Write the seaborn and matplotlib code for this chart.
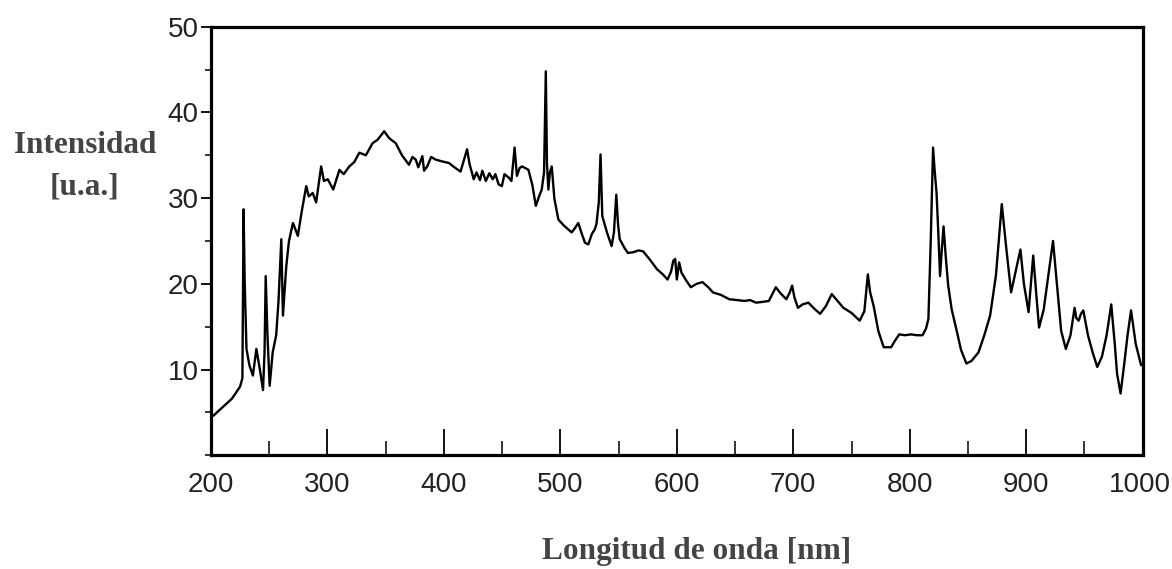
import matplotlib
matplotlib.use("Agg")
import matplotlib.pyplot as plt
import matplotlib.transforms as mtransforms
import seaborn as sns
import pandas as pd
from matplotlib.ticker import MultipleLocator

wavelength = [202, 210, 218, 225, 227, 228, 229, 230.5, 233, 236, 239, 242, 244.7, 246, 247, 248.5,
              250.4, 253, 256, 258, 260.4, 261.8, 264.7, 267, 270.4, 274.6, 278, 281.8, 284, 287.4,
              290.3, 294.6, 297, 300.3, 305, 310.3, 314, 318.8, 323, 327.4, 333, 338.7, 343, 348.7,
              353, 358.7, 364, 370, 373, 375.8, 378, 381.5, 383, 385.7, 389, 392.9, 398, 404.3,
              409, 414.3, 419.9, 422, 425.6, 428, 431, 433, 436, 439, 442, 444.2, 447, 449.8,
              452, 455.6, 458, 460.7, 462.7, 465, 467, 470, 472.6, 476, 478.9, 482, 484, 486,
              487.5, 488.5, 489.7, 491, 492.6, 494.9, 498.3, 503, 509.7, 512, 515.4, 518, 521.1,
              524, 527, 529.7, 531, 533, 534.5, 536, 540, 544, 546, 548, 549.5, 551, 555, 558,
              563, 567, 571, 577, 583, 588, 592, 595, 597, 598.6, 600, 602, 604, 608, 612, 617,
              622, 627, 631, 638, 645, 652, 658, 663, 668, 674, 679, 682, 685, 689, 694, 697,
              699, 701, 704, 708, 713, 718, 723, 728, 733, 738, 743, 750, 757, 761, 764, 766,
              769, 773, 777.6, 784, 787, 791, 796, 801, 806, 811, 814, 816, 818, 820, 821.5,
              823, 824.5, 826, 827.5, 829, 831, 833, 836, 840, 844, 848.6, 853, 859, 864, 869,
              874, 879, 883, 887, 891, 895, 898, 902, 904, 906, 908.5, 911, 915, 919, 923, 927,
              930, 934, 938, 941.5, 943, 945, 947, 949, 953, 957, 961, 965, 969, 973, 976, 978,
              981, 984, 987, 990, 994, 998.6]

intensity = [4.6, 5.6, 6.6, 8.0, 9.0, 28.7, 20.0, 12.4, 10.5, 9.3, 12.4, 10.0, 7.6, 12.0, 20.9, 14.0,
             8.1, 12.0, 14.0, 18.0, 25.2, 16.3, 22.1, 25.0, 27.1, 25.6, 28.5, 31.4, 30.2, 30.6,
             29.5, 33.7, 32.0, 32.2, 31.0, 33.3, 32.8, 33.7, 34.2, 35.3, 35.0, 36.4, 36.8, 37.8,
             37.0, 36.4, 35.0, 33.9, 34.8, 34.5, 33.6, 34.9, 33.2, 33.7, 34.8, 34.5, 34.3, 34.1,
             33.6, 33.1, 35.7, 34.0, 32.2, 33.0, 32.1, 33.2, 32.0, 32.9, 32.2, 32.8, 31.6, 31.4,
             32.8, 32.4, 32.0, 35.9, 32.6, 33.5, 33.7, 33.5, 33.3, 31.5, 29.1, 30.3, 31.0, 33.0,
             44.8, 34.0, 31.0, 33.0, 33.7, 29.9, 27.5, 26.8, 26.0, 26.4, 27.1, 26.0, 24.8,
             24.6, 25.8, 26.4, 27.0, 29.5, 35.1, 27.9, 26.0, 24.4, 26.0, 30.4, 27.0, 25.2, 24.2, 23.6,
             23.7, 23.9, 23.8, 22.8, 21.7, 21.1, 20.5, 21.4, 22.7, 22.9, 20.5, 22.5, 21.3, 20.4, 19.6, 20.0,
             20.2, 19.6, 19.0, 18.7, 18.2, 18.1, 18.0, 18.1, 17.8, 17.9, 18.0, 18.8, 19.6, 18.9, 18.2, 19.0,
             19.8, 18.4, 17.2, 17.6, 17.8, 17.1, 16.5, 17.4, 18.8, 18.0, 17.2, 16.6, 15.7, 16.8, 21.1, 19.0,
             17.4, 14.5, 12.6, 12.6, 13.3, 14.1, 14.0, 14.1, 14.0, 14.0, 14.8, 15.9, 25.0, 35.9, 33.0,
             30.6, 26.0, 20.9, 24.0, 26.7, 23.0, 19.8, 17.0, 14.7, 12.3, 10.7, 11.0, 12.0, 14.0, 16.3,
             21.0, 29.3, 24.0, 19.0, 21.5, 24.0, 20.0, 16.7, 20.0, 23.3, 19.0, 14.9, 17.0, 21.0, 25.0, 19.0,
             14.5, 12.4, 14.0, 17.2, 16.0, 15.7, 16.5, 16.9, 14.0, 12.0, 10.3, 11.5, 14.0, 17.6, 13.0, 9.5,
             7.2, 10.5, 14.0, 16.9, 13.0, 10.5]

x_ticks = [200, 300, 400, 500, 600, 700, 800, 900, 1000]
y_ticks = [10, 20, 30, 40, 50]

sns.set_theme(style="white")
plt.rcParams['font.family'] = ['Liberation Sans', 'DejaVu Sans']

df = pd.DataFrame({"wl": wavelength, "I": intensity})

fig = plt.figure(figsize=(11.72, 5.69), dpi=100)
ax = fig.add_axes([0.180, 0.200, 0.795, 0.753])
sns.lineplot(data=df, x="wl", y="I", ax=ax, color="black", linewidth=1.7, sort=False)

ax.set_xlim(200, 1000)
ax.set_ylim(0, 50)
ax.set_xticks(x_ticks)
ax.set_yticks(y_ticks)
ax.xaxis.set_minor_locator(MultipleLocator(50))
ax.yaxis.set_minor_locator(MultipleLocator(5))
ax.tick_params(axis='x', which='major', direction='in', length=19, width=1.3, colors='black',
               labelsize=20, pad=12, bottom=True)
ax.tick_params(axis='x', which='minor', direction='in', length=10, width=1.3, bottom=True)
ax.tick_params(axis='y', which='major', direction='out', length=7, width=1.3, colors='black',
               labelsize=20, pad=2, left=True)
ax.tick_params(axis='y', which='minor', direction='out', length=4.5, width=1.3, left=True)
for t in ax.get_xticklabels() + ax.get_yticklabels():
    t.set_color('#222222')
last = ax.get_xticklabels()[-1]
last.set_transform(last.get_transform() + mtransforms.ScaledTranslation(-3 / 100, 0, fig.dpi_scale_trans))

for s in ax.spines.values():
    s.set_visible(True)
    s.set_color('black')
    s.set_linewidth(2.3)

ax.set_xlabel("")
ax.set_ylabel("")
fig.text(0.594, 0.030, "Longitud de onda [nm]", fontfamily="Liberation Serif", fontweight="bold",
         fontsize=22.5, color="#444444", ha="center", va="center")
fig.text(0.0725, 0.745, "Intensidad", fontfamily="Liberation Serif", fontweight="bold",
         fontsize=22.5, color="#444444", ha="center", va="center")
fig.text(0.0725, 0.671, "[u.a.]", fontfamily="Liberation Serif", fontweight="bold",
         fontsize=22.5, color="#444444", ha="center", va="center")

fig.savefig("out.png", dpi=100, facecolor="white")
